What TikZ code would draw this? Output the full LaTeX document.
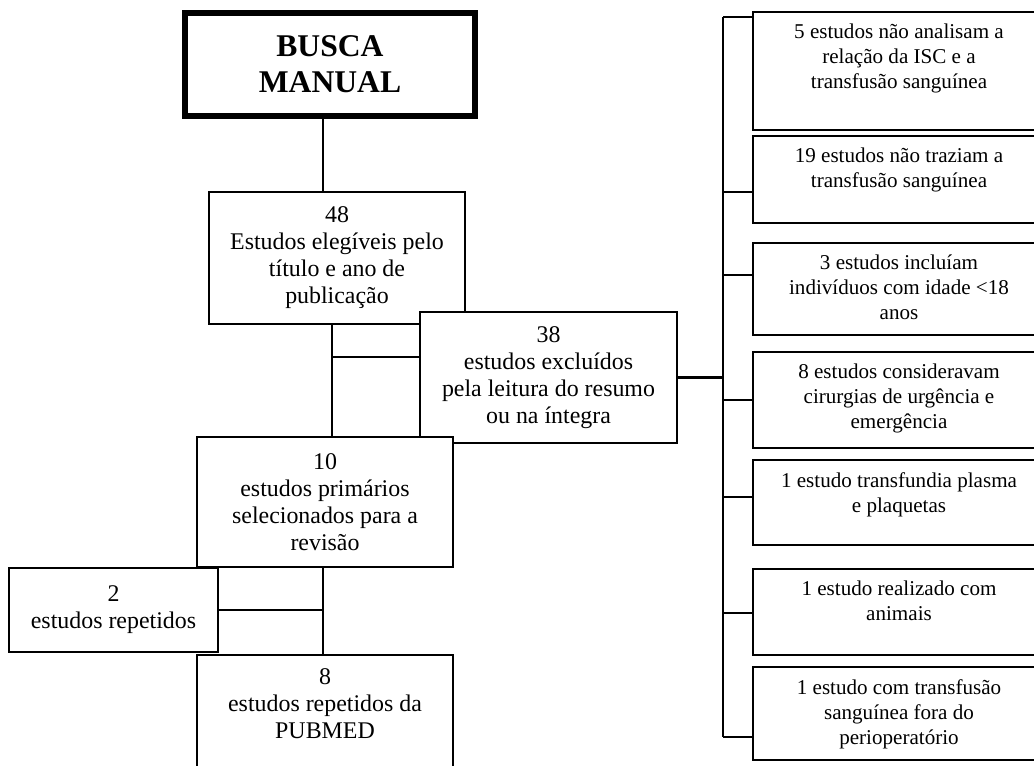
\documentclass[tikz,border=0pt]{standalone}
\usepackage{fontspec}
\setmainfont{Liberation Serif}
\usetikzlibrary{positioning}

\tikzset{
  box/.style 2 args={draw, line width=0.9pt, fill=white, minimum width=#1*0.02cm,
    minimum height=#2*0.02cm, inner sep=0pt},
  rbox/.style={draw, line width=1.2pt, fill=white, minimum width=292*0.02cm,
    minimum height=#1*0.02cm, inner sep=0pt},
  ltext/.style={align=center, inner sep=0pt, font=\fontsize{13.6}{15.4}\selectfont},
  rtext/.style={align=center, inner sep=0pt, font=\fontsize{12}{14.2}\selectfont},
  link/.style={line width=0.9pt},
  bus/.style={line width=1.2pt}
}

\begin{document}
\begin{tikzpicture}[x=0.02cm, y=-0.02cm]
  \useasboundingbox (0,0) rectangle (1034,765);
  \clip (0,0) rectangle (1034,765);

  % left column
  \node[draw, line width=3.4pt, minimum width=290*0.02cm, minimum height=103*0.02cm,
    align=center, font=\fontsize{18}{20.5}\selectfont\bfseries] (busca) at (330,64.5) {BUSCA\\MANUAL};
  \node[box={256}{132}, ltext] (b48) at (337,258) {48\\Estudos elegíveis pelo\\título e ano de\\publicação};
  \node[box={257}{131}, ltext] (b38) at (548.5,377.5) {38\\estudos excluídos\\pela leitura do resumo\\ou na íntegra};
  \node[box={256}{130}, ltext] (b10) at (325,502) {10\\estudos primários\\selecionados para a\\revisão};
  \node[box={209}{84}, ltext] (b2) at (113.5,610) {2\\estudos repetidos};
  \node[box={256}{145}] (b8) at (325,727.5) {};
  \node[ltext, below=0.28cm of b8.north] (t8) {8\\estudos repetidos da\\PUBMED};

  \coordinate (spine) at (323,0);
  \coordinate (j48) at (332,357);
  \draw[link] (busca.south -| spine) -- (b48.north -| spine);
  \draw[link] (b48.south -| j48) -- (b10.north -| j48);
  \draw[link] (j48) -- (b38.west |- j48);
  \draw[link] (b10.south -| spine) -- (b8.north -| spine);
  \draw[link] (b2.east) -- (b2.east -| spine);

  % exclusion reasons
  \coordinate (bustop) at (723,17);
  \coordinate (busbot) at (723,737);
  \draw[bus] (bustop) -- (busbot);
  \draw[bus] (b38.east) -- (b38.east -| bustop);
  \foreach \n/\cy/\h/\ty/\txt in {
    1/71/118/17/{5 estudos não analisam a\\relação da ISC e a\\transfusão sanguínea},
    2/179.5/87/192/{19 estudos não traziam a\\transfusão sanguínea},
    3/289/92/275/{3 estudos incluíam\\indivíduos com idade <18\\anos},
    4/400/96/400/{8 estudos consideravam\\cirurgias de urgência e\\emergência},
    5/502.5/85/497/{1 estudo transfundia plasma\\e plaquetas},
    6/612/86/613/{1 estudo realizado com\\animais},
    7/713.5/93/737/{1 estudo com transfusão\\sanguínea fora do\\perioperatório}} {
    \node[rbox=\h] (r\n) at (899,\cy) {};
    \node[rtext, below=0.26cm of r\n.north] (t\n) {\txt};
    \draw[bus] (bustop |- 0,\ty) -- (r\n.west |- 0,\ty);
  }
\end{tikzpicture}
\end{document}
